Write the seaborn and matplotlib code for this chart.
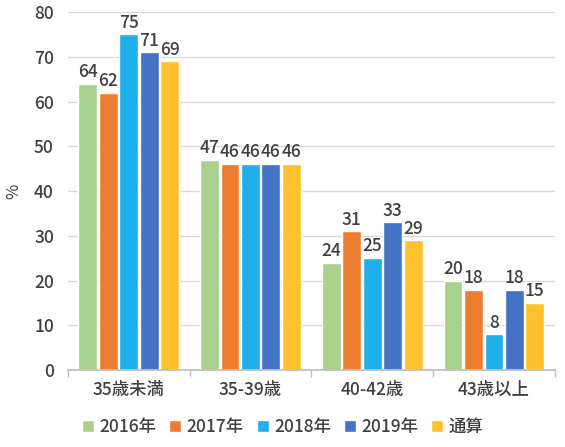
import pandas as pd
import seaborn as sns
import matplotlib.pyplot as plt

# データ
categories = ['35歳未満', '35-39歳', '40-42歳', '43歳以上']
series = ['2016年', '2017年', '2018年', '2019年', '通算']
v2016 = [64, 47, 24, 20]
v2017 = [62, 46, 31, 18]
v2018 = [75, 46, 25, 8]
v2019 = [71, 46, 33, 18]
v_total = [69, 46, 29, 15]

colors = ['#A9D18E', '#ED7D31', '#1FB0EB', '#4472C4', '#FFC12E']

rows = []
for name, vals in zip(series, [v2016, v2017, v2018, v2019, v_total]):
    for cat, v in zip(categories, vals):
        rows.append({'区分': cat, '年': name, '値': v})
df = pd.DataFrame(rows)

sns.set_theme(style='white')
plt.rcParams['font.family'] = ['Noto Sans CJK JP', 'DejaVu Sans']
plt.rcParams['font.weight'] = 'medium'

fig = plt.figure(figsize=(5.65, 4.47), dpi=100)
ax = fig.add_axes([0.12, 0.172, 0.862, 0.801])

sns.barplot(data=df, x='区分', y='値', hue='年', palette=colors,
            width=0.84, gap=0.08, ax=ax, saturation=1, legend=True)

for c in ax.containers:
    ax.bar_label(c, fmt='%d', padding=2, fontsize=12.5, color='#404040')

ax.set_ylim(0, 80)
ax.set_yticks(range(0, 81, 10))
ax.set_xlim(-0.5, 3.5)
ax.yaxis.grid(True, color='#D9D9D9', linewidth=1)
ax.set_axisbelow(True)
for s in ['left', 'right', 'top']:
    ax.spines[s].set_visible(False)
ax.spines['bottom'].set_color('#BFBFBF')
ax.set_xlabel('')
ax.set_ylabel('%', fontsize=12, color='#404040', labelpad=8)
ax.tick_params(axis='y', labelsize=12.5, colors='#404040', length=0, pad=10)
ax.tick_params(axis='x', labelsize=12.5, colors='#404040', length=0, pad=8)

# 区切りの目盛り
ax.set_xticks([-0.5, 0.5, 1.5, 2.5, 3.5], minor=True)
ax.tick_params(axis='x', which='minor', length=5, color='#BFBFBF', bottom=True)

ax.legend(loc='upper center', bbox_to_anchor=(0.5, 0.1), bbox_transform=fig.transFigure,
          ncol=5, frameon=False,
          fontsize=12.5, handlelength=0.7, handleheight=0.7, handletextpad=0.3,
          columnspacing=0.75, labelcolor='#404040')

fig.savefig('out.png', dpi=100)
